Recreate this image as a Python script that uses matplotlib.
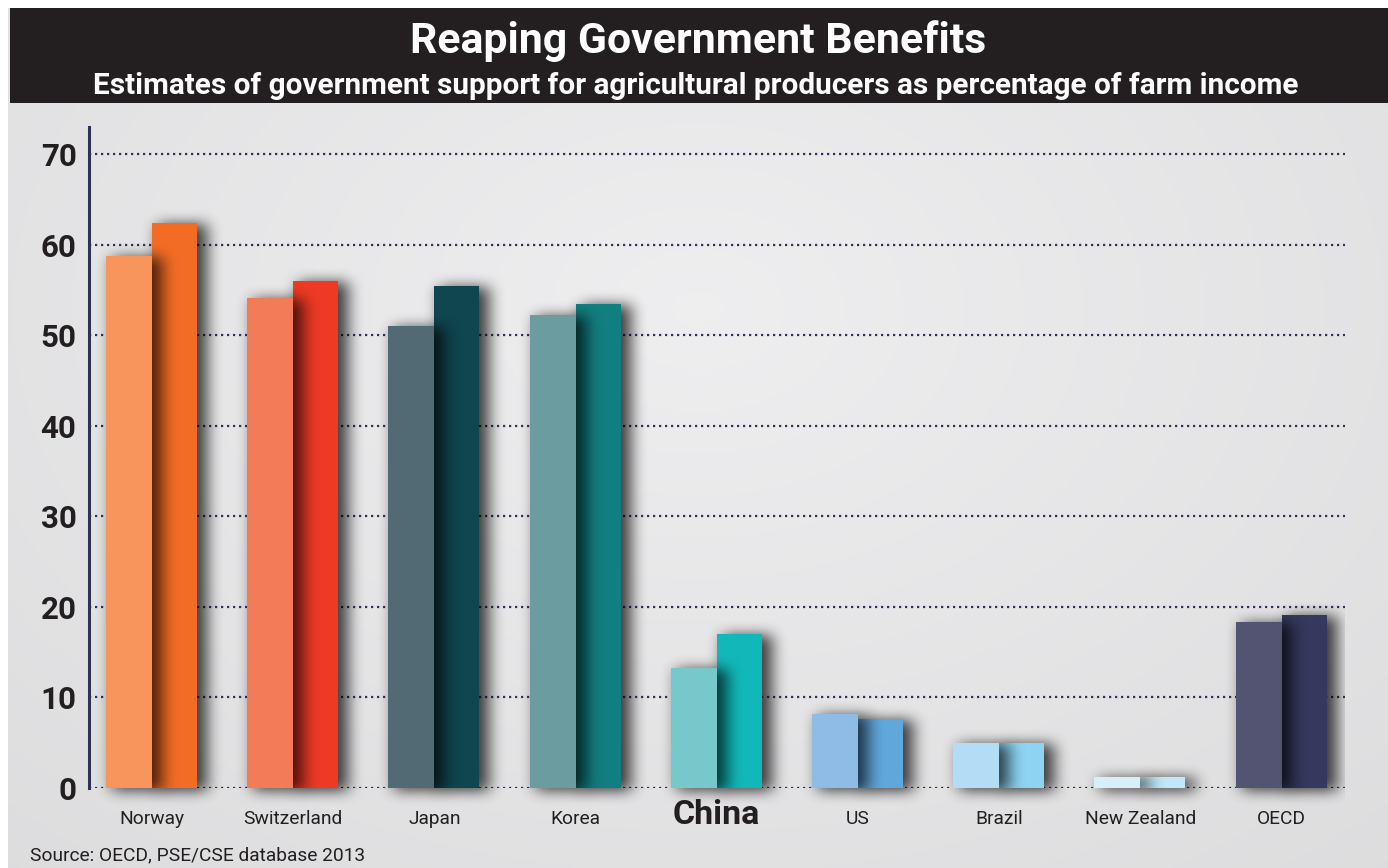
import numpy as np
import matplotlib
matplotlib.use("Agg")
import matplotlib.pyplot as plt
from matplotlib.patches import Rectangle
from matplotlib.transforms import blended_transform_factory

# ---- data ----
countries = ["Norway", "Switzerland", "Japan", "Korea", "China", "US", "Brazil", "New Zealand", "OECD"]
support_a = [58.7, 54.1, 51.0, 52.2, 13.2, 8.2, 5.0, 1.2, 18.3]
support_b = [62.4, 56.0, 55.4, 53.4, 17.0, 7.6, 5.0, 1.2, 19.1]
colors_a = ["#f7955c", "#f47b57", "#526a74", "#6a9ca0", "#76c8ca", "#8fbce6", "#b2ddf5", "#d6eff9", "#535472"]
colors_b = ["#f36c25", "#ee3a24", "#0f4650", "#117e80", "#12b8b9", "#60a8dc", "#8ed4f2", "#c1e8f8", "#35395d"]
yticks = [0, 10, 20, 30, 40, 50, 60, 70]

title = "Reaping Government Benefits"
subtitle = "Estimates of government support for agricultural producers as percentage of farm income"
source = "Source: OECD, PSE/CSE database 2013"

plt.rcParams['font.family'] = ['Roboto', 'DejaVu Sans']

W, H = 1388, 868
fig = plt.figure(figsize=(W / 100, H / 100), dpi=100, facecolor="white")

# background gradient panel
bg = fig.add_axes([8 / W, 0, 1 - 8 / W, 1 - 8 / H], zorder=-10)
gx = np.linspace(-1, 1, 400)
gy = np.linspace(-1, 1, 250)
GX, GY = np.meshgrid(gx, gy)
r = np.sqrt((GX * 0.9) ** 2 + ((GY + 0.3) * 0.8) ** 2)
val = 0.935 - 0.07 * np.clip(r, 0, 1.4) / 1.4
bg.imshow(np.dstack([val, val, val + 0.006]), aspect="auto", extent=[0, 1, 0, 1], interpolation="bilinear")
bg.set_axis_off()

# title banner
fig.patches.append(Rectangle((10 / W, 1 - 103 / H), 1 - 10 / W, 95 / H, transform=fig.transFigure,
                             facecolor="#231f20", edgecolor="none", zorder=0))
fig.text(698 / W, 1 - 52.5 / H, title, color="white", fontsize=30.8, fontweight="bold",
         ha="center", va="baseline")
fig.text(696 / W, 1 - 94 / H, subtitle, color="white", fontsize=21.4, fontweight="bold",
         ha="center", va="baseline")
fig.text(30 / W, 1 - 855 / H, source, color="#231f20", fontsize=13.8, ha="left", va="center")

# main axes
ax_l, ax_r, ax_b, ax_t = 89, 1345, 788, 127
ax = fig.add_axes([ax_l / W, 1 - ax_b / H, (ax_r - ax_l) / W, (ax_b - ax_t) / H])
ax.patch.set_alpha(0)
spacing_px = 141.2
x = np.arange(len(countries))
x0lim, x1lim = (ax_l - 152) / spacing_px, (ax_r - 152) / spacing_px
ax.set_xlim(x0lim, x1lim)
ymax = 73
ax.set_ylim(0, ymax)

for yv in yticks:
    ax.axhline(yv, color="#2e3257", lw=1.6, ls=(0, (1, 1.7)), zorder=1)

for s in ["top", "right", "bottom"]:
    ax.spines[s].set_visible(False)
ax.spines["left"].set_color("#2e3257")
ax.spines["left"].set_linewidth(2.2)
ax.set_xticks([])
ax.set_yticks(yticks)
ax.set_yticklabels([str(v) for v in yticks], fontsize=22.5, fontweight="bold", color="#231f20")
ax.tick_params(axis="y", length=0, pad=9)

px_x = 1 / spacing_px
px_y = ymax / (ax_b - ax_t)
wa = 46 * px_x
wb = 45 * px_x

# soft drop shadows computed on a pixel grid of the axes
NX = ax_r - ax_l
NY = (ax_b - ax_t) + 20
ybot = -20 * px_y
cols = x0lim + (np.arange(NX) + 0.5) * px_x
rows = ymax - (np.arange(NY) + 0.5) * px_y


def box_blur(a, r, axis):
    pad = [(0, 0), (0, 0)]
    pad[axis] = (r + 1, r)
    p = np.pad(a, pad, mode="constant")
    c = np.cumsum(p, axis=axis)
    if axis == 0:
        return (c[2 * r + 1:, :] - c[:-2 * r - 1, :]) / (2 * r + 1)
    return (c[:, 2 * r + 1:] - c[:, :-2 * r - 1]) / (2 * r + 1)


def shadow_image(lefts, widths, heights, z, strength):
    m = np.zeros((NY, NX))
    for l, w, h in zip(lefts, widths, heights):
        xl = l + 6 * px_x
        xr = l + w + 10 * px_x
        inside_x = (cols >= xl) & (cols <= xr)
        inside_y = (rows <= h - 1 * px_y) & (rows >= -3 * px_y)
        m[np.ix_(inside_y, inside_x)] = 1.0
    for _ in range(3):
        m = box_blur(m, 6, 0)
        m = box_blur(m, 7, 1)
    rgba = np.zeros((NY, NX, 4))
    rgba[..., 3] = np.clip(m * strength, 0, 1)
    ax.imshow(rgba, extent=[x0lim, x1lim, ybot, ymax], aspect="auto", zorder=z,
              interpolation="bilinear", clip_on=False)


lefts_a = [xi - wa for xi in x]
lefts_b = [xi for xi in x]
shadow_image(lefts_b, [wb] * len(x), support_b, 2, 0.75)
ax.bar(lefts_b, support_b, width=wb, align="edge", color=colors_b, zorder=3)
shadow_image(lefts_a, [wa] * len(x), support_a, 4, 0.7)
ax.bar(lefts_a, support_a, width=wa, align="edge", color=colors_a, zorder=5)
ax.set_xlim(x0lim, x1lim)
ax.set_ylim(0, ymax)

trans = blended_transform_factory(ax.transData, ax.transAxes)
for i, c in enumerate(countries):
    if c == "China":
        ax.text(x[i], (ax_b - 815) / (ax_b - ax_t), c, transform=trans, ha="center", va="center",
                fontsize=24.5, fontweight="bold", color="#231f20")
    else:
        ax.text(x[i], (ax_b - 819) / (ax_b - ax_t), c, transform=trans, ha="center", va="center",
                fontsize=13.8, color="#231f20")

fig.savefig("out.png", dpi=100, facecolor="white")
